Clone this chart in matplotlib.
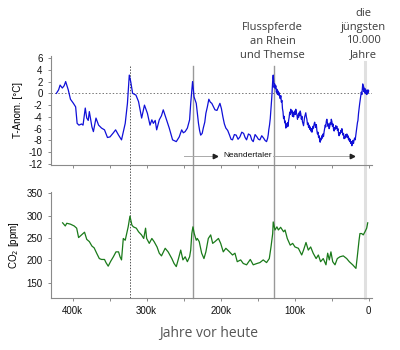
import matplotlib
matplotlib.use("Agg")
import matplotlib.pyplot as plt
from matplotlib.lines import Line2D
from matplotlib.transforms import blended_transform_factory
import numpy as np

# ---------------- data ----------------
# Temperature anomaly (Vostok), age in kyr BP
temp_age = [422, 419, 417, 414, 411.5, 409.5, 406, 403, 399, 396, 394, 391.5, 388, 386, 383, 381, 379, 377.5,
            374, 372, 368.5, 365, 361, 357, 353, 349.6, 345, 342, 338, 334, 329, 326, 323.5, 321.6, 319,
            314.5, 311, 306.8, 303, 299, 295.5, 293, 291, 288.5, 286.5, 283, 280, 277.6, 274, 269.5, 265,
            260, 256, 252.7, 250.5, 248, 245, 242, 240.5, 238, 236, 233, 230, 228.5, 227, 225, 223.5, 221.5,
            220, 218, 216, 214, 212, 210, 207.7, 205, 203, 201, 199, 197, 195, 193, 190.5, 188, 186, 184,
            181.5, 179, 176.5, 174, 171.5, 169, 167, 165, 162.5, 160, 158, 156, 153.5, 151, 149, 147, 144.5,
            142, 140, 138,
            136.5, 135.7, 135, 134, 133, 132, 131, 130.2, 129.5, 129, 128.4, 127.8, 127, 126.2, 125.5, 124.7,
            124, 123.2, 122.5, 121.8, 121, 120.2, 119.5, 118.7, 118, 117.2, 116.5, 115.8, 115, 114.2, 113.5,
            112.7, 112, 111.2, 110.5, 109.7, 109, 108.2, 107.5, 106.7, 106, 105.3, 104.5, 103.8, 103, 102.2,
            101.5, 100.7, 100, 99.2, 98.5, 97.7, 97, 96.2, 95.5, 94.7, 94, 93.2, 92.5, 91.7, 91, 90.2, 89.5,
            88.7, 88, 87.2, 86.5, 85.7, 85, 84.2, 83.5, 82.7, 82, 81.2, 80.5, 79.7, 79, 78.2, 77.5, 76.7, 76,
            75.2, 74.5, 73.7, 73, 72.2, 71.5, 70.7, 70, 69.2, 68.5, 67.7, 67, 66.2, 65.5, 64.7, 64, 63.2, 62.5,
            61.7, 61, 60.2, 59.5, 58.7, 58, 57.2, 56.5, 55.7, 55, 54.2, 53.5, 52.7, 52, 51.2, 50.5, 49.7, 49,
            48.2, 47.5, 46.7, 46, 45.2, 44.5, 43.7, 43, 42.2, 41.5, 40.7, 40, 39.2, 38.5, 37.7, 37, 36.2, 35.5,
            34.7, 34, 33.2, 32.5, 31.7, 31, 30.2, 29.5, 28.7, 28, 27.2, 26.5, 25.7, 25, 24.2, 23.5, 22.7, 22,
            21.2, 20.5, 19.7, 19, 18.2, 17.5, 16.7, 16, 15.2, 14.5, 13.7, 13, 12.2, 11.5, 10.7, 10, 9.2, 8.5,
            8, 7.5, 7, 6.5, 6, 5.5, 5, 4.5, 4, 3.5, 3, 2.5, 2, 1.5, 1, 0.5, 0]
temp_val = [0.0, 0.6, 1.4, 0.9, 1.3, 2.0, 0.6, -1.0, -1.7, -2.3, -5.1, -5.4, -5.2, -5.4, -2.5, -4.2, -4.6, -3.1,
            -5.7, -6.5, -4.2, -5.4, -5.9, -6.2, -7.5, -7.4, -6.7, -6.2, -7.1, -7.9, -5.1, -1.7, 3.1, 2.0, 0.0,
            -0.3, -1.4, -4.2, -2.0, -3.4, -5.4, -4.5, -5.1, -4.6, -6.2, -4.5, -3.8, -2.8, -4.2, -5.9, -7.9,
            -8.2, -7.4, -6.2, -6.7, -6.5, -5.9, -4.5, -1.7, 2.0, -0.6, -1.7, -5.1, -6.3, -7.1, -6.8, -5.9, -4.9,
            -3.4, -2.3, -1.0, -1.5, -1.7, -2.2, -2.8, -2.9, -2.3, -1.7, -2.6, -4.0, -5.2, -5.9, -6.3, -7.1, -7.8, -7.9,
            -7.0, -7.1, -7.8, -7.4, -6.6, -6.8, -7.5, -7.9, -6.9, -7.1, -7.9, -8.2, -7.0, -7.4, -7.8, -7.9, -7.2,
            -7.6, -8.0, -8.2,
            -7.6, -7.0, -6.2, -5.4, -4.3, -2.5, -0.8, 1.2, 2.6, 3.1, 2.2, 1.0, 1.6, 0.8, 1.3, 0.2,
            0.7, -0.2, 0.4, -0.3, 0.1, -0.6, -0.9, -0.4, -1.5, -1.2, -2.6, -3.1, -4.3, -3.9, -5.0,
            -4.7, -5.9, -5.2, -5.7, -5.0, -5.6, -4.6, -4.1, -3.2, -3.6, -2.7, -3.3, -2.9, -3.9, -3.2,
            -4.0, -3.4, -3.0, -3.6, -2.7, -3.3, -3.6, -4.4, -3.7, -4.1, -3.3, -3.8, -3.0, -3.5, -4.4, -3.9, -4.8,
            -5.2, -5.5, -4.6, -4.0, -3.6, -3.3, -4.0, -4.4, -5.3, -5.0, -5.8, -5.4, -6.1, -5.7, -6.4, -6.0, -6.6, -6.2,
            -5.6, -5.9, -5.2, -4.9, -5.4, -5.8, -5.3, -6.3, -6.9, -6.6, -7.5, -7.2, -8.0, -8.3, -7.6, -7.9, -7.2, -7.6,
            -6.9, -7.3, -6.5, -6.0, -5.4, -5.7, -4.7, -4.4, -5.1, -5.6, -5.2, -6.0, -5.7, -5.0, -5.3, -4.4, -4.8, -5.6,
            -5.2, -6.1, -6.4, -5.8, -6.1, -5.5, -5.9, -5.6, -6.3, -6.0, -6.8, -7.2, -6.7, -6.9, -6.3, -6.6, -6.0, -6.6,
            -7.1, -6.8, -7.7, -7.3, -7.6, -7.0, -7.4, -6.9, -7.5, -7.2, -7.9, -7.6, -8.2, -7.8, -8.5, -8.2, -8.9, -8.4,
            -8.0, -8.5, -7.9, -7.6, -7.9, -7.2, -6.5, -5.8, -5.0, -4.6, -3.4, -2.6, -1.8, -1.2, -0.4, 0.2, -0.2, 1.0,
            1.6, 0.7, 1.2, 0.3, 0.9, 0.2, 0.8, 0.0, 0.6, -0.1, 0.5, -0.2, 0.4, 0.0, 0.6, 0.2, 0.4]

# CO2 concentration, age in kyr BP
co2_age = [413.6, 410, 408, 403, 398, 394.6, 392, 388, 384, 381, 377.5, 374, 371, 367.6, 364, 361, 357, 355,
           352, 348.6, 345, 341.5, 338, 336, 334, 331.6, 329, 327, 325, 322.6, 320, 318, 314, 311, 307, 304,
           301.5, 300, 296.5, 293, 290, 286, 283, 280, 275, 271, 266, 263, 260, 257, 254, 251, 248, 245, 242,
           240.5, 239, 237.5, 235.7, 233, 231.6, 229, 225.7, 222.6, 220, 216.7, 213.5, 210.8, 207.7, 203, 200,
           196.5, 193, 188, 184, 180.7, 177.6, 173, 169.5, 165, 160, 156, 151, 147, 142.5, 138, 134.3, 132,
           129.7, 129, 126.6, 124, 122, 119, 115, 113, 110, 106, 102.7, 99.6, 95, 90.5, 88, 84.7, 81.6, 78.4,
           75, 71, 68, 65, 61.4, 57.7, 55.4, 53.2, 51, 48.6, 45.5, 42.4, 38.8, 34.3, 29.7, 26.2, 21.6, 17.2,
           15.4, 13, 11.8, 9.5, 7.3, 5, 2.7, 1.3]
co2_val = [284, 277, 283, 281, 277, 272, 251, 257, 263, 247, 242, 232, 228, 216, 204, 202, 202, 195,
           187, 198, 208, 219, 219, 208, 201, 249, 245, 260, 275, 299, 279, 275, 272, 264, 257, 249,
           272, 249, 238, 249, 242, 230, 216, 210, 227, 219, 204, 193, 186, 204, 223, 201, 208, 197, 208,
           223, 260, 275, 260, 245, 249, 242, 216, 204, 219, 249, 257, 238, 242, 249, 238,
           219, 227, 219, 212, 216, 197, 201, 193, 190, 202, 190, 193, 195, 201, 195, 204, 230,
           260, 286, 268, 275, 268, 274, 264, 268, 249, 234, 238, 230, 227, 212, 223, 240, 223, 230,
           216, 204, 212, 197, 204, 190, 216, 201, 219, 197, 190, 204, 208, 210, 204, 197, 190, 182,
           208, 245, 260, 260, 257, 264, 272, 284]

x_ticks_major = [400, 300, 200, 100, 0]
x_ticklabels = ["400k", "300k", "200k", "100k", "0"]
x_ticks_minor = [350, 250, 150, 50]
t_ticks = [6, 4, 2, 0, -2, -4, -6, -8, -10, -12]
co2_ticks = [150, 200, 250, 300, 350]

event_ages = [322.6, 237, 128, 5]
label_hippo = "Flusspferde\nan Rhein\nund Themse"
label_recent = "die\njüngsten\n10.000\nJahre"

# ---------------- figure ----------------
W, H = 400, 350
fig = plt.figure(figsize=(4, 3.5), dpi=100)
tick_font = "Liberation Sans"
anno_font = "Open Sans"
grey = "#8a8a8a"

def px_axes(l, t, r, b):
    return [l / W, 1 - b / H, (r - l) / W, (b - t) / H]

ax1 = fig.add_axes(px_axes(51, 56, 372, 165))
ax2 = fig.add_axes(px_axes(51, 192, 372, 297.7))

XL = (429.3, -4.5)
for ax in (ax1, ax2):
    ax.set_xlim(*XL)
    for s in ("top", "right"):
        ax.spines[s].set_visible(False)
    for s in ("left", "bottom"):
        ax.spines[s].set_color(grey)
        ax.spines[s].set_linewidth(0.8)
    ax.tick_params(colors=grey, length=2.5, width=0.7, labelcolor="#111111", labelsize=7)
    ax.tick_params(which="minor", colors=grey, length=2.5, width=0.7)
    ax.set_xticks(x_ticks_major)
    ax.set_xticks(x_ticks_minor, minor=True)
    ax.set_facecolor("none")

ax1.set_ylim(-12.17, 6.34)
ax1.set_yticks(t_ticks)
ax1.set_yticklabels([str(v) for v in t_ticks], fontfamily=tick_font)
ax1.set_xticklabels([])
ax1.axhline(0, color="#777777", lw=0.7, ls=(0, (1.5, 2)), zorder=1)
ax1.plot(temp_age, temp_val, color="#1010d8", lw=0.9, zorder=3)
ax1.set_ylabel("T-Anom. [°C]", fontfamily=tick_font, fontsize=7, labelpad=4)

ax2.set_ylim(116.4, 353)
ax2.set_yticks(co2_ticks)
ax2.set_yticklabels([str(v) for v in co2_ticks], fontfamily=tick_font)
ax2.set_xticklabels(x_ticklabels, fontfamily=tick_font)
ax2.plot(co2_age, co2_val, color="#1a7a1a", lw=0.9, zorder=3)
ax2.set_ylabel("CO$_2$ [ppm]", fontfamily=tick_font, fontsize=7, labelpad=4)

# vertical event lines spanning both panels (drawn beneath the axes content)
tr = blended_transform_factory(ax1.transData, fig.transFigure)
y_top = 1 - 66 / H
y_bot = 1 - 297.7 / H
styles = [dict(color="#555555", lw=0.7, ls=(0, (1.5, 1.5))),
          dict(color="#999999", lw=1.0, ls="-"),
          dict(color="#999999", lw=1.0, ls="-"),
          dict(color="#e0e0e0", lw=2.2, ls="-")]
for age, st in zip(event_ages, styles):
    ln = Line2D([age, age], [y_top if age > 10 else 1 - 62 / H, y_bot], transform=tr, zorder=-1, **st)
    fig.add_artist(ln)

# Neandertaler arrow
ya = -10.6
ax1.plot([250, 208], [ya, ya], color="#aaaaaa", lw=0.7, zorder=2)
ax1.plot([129, 22], [ya, ya], color="#aaaaaa", lw=0.7, zorder=2)
ax1.plot([208, 22], [ya, ya], ls="none", marker=">", ms=3.2, color="#222222", zorder=2)
ax1.text(197, ya, "Neandertaler", fontfamily=tick_font, fontsize=6, color="#111111",
         ha="left", va="center")

# annotations
fig.text(272.7 / W, 1 - 41.5 / H, label_hippo, ha="center", va="center", fontfamily=anno_font,
         fontsize=8, color="#3a3a3a", linespacing=1.33)
fig.text(363 / W, 1 - 34 / H, label_recent, ha="center", va="center", fontfamily=anno_font,
         fontsize=8, color="#3a3a3a", linespacing=1.33)

fig.text(209 / W, 1 - 333 / H, "Jahre vor heute", ha="center", va="center", fontfamily=anno_font,
         fontsize=10, color="#555555")

fig.savefig("out.png", dpi=100)
